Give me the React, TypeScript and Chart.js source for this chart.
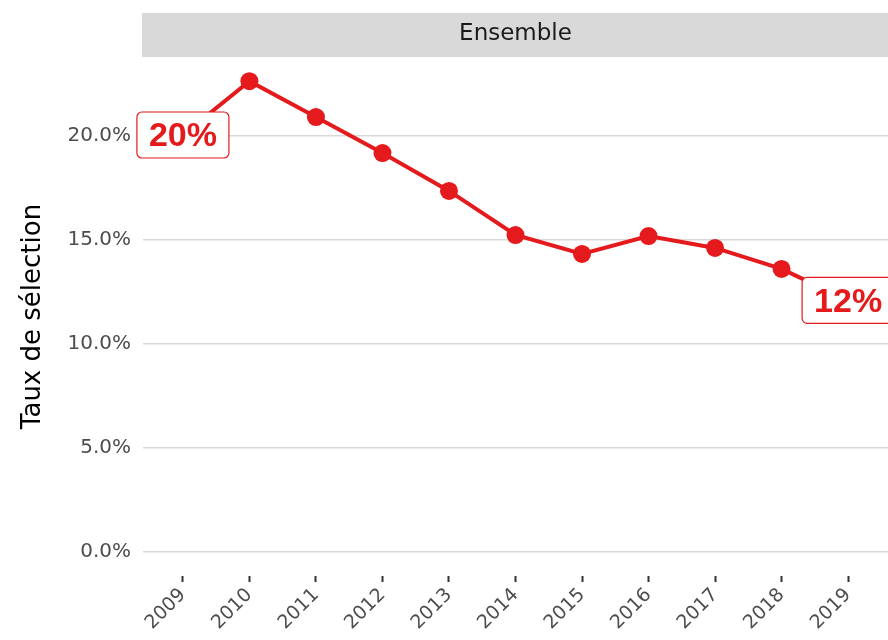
import React, { useEffect, useRef } from "react";
import { Chart, registerables } from "chart.js";

Chart.register(...registerables);

const years = [2009, 2010, 2011, 2012, 2013, 2014, 2015, 2016, 2017, 2018, 2019];
const rates = [20.05, 22.64, 20.91, 19.18, 17.36, 15.24, 14.33, 15.19, 14.62, 13.61, 12.1];
const yTicks = [0, 5, 10, 15, 20];
const labelYears = [2009, 2019];
const labelTexts = ["20%", "12%"];
const panelTitle = "Ensemble";
const yTitle = "Taux de sélection";

const RED = "#e41a1c";
const FONT = "'DejaVu Sans', sans-serif";
const CANVAS_W = 897;

const stripPlugin = {
  id: "strip",
  beforeDraw(chart: any) {
    const { ctx, chartArea } = chart;
    ctx.save();
    ctx.fillStyle = "#d9d9d9";
    ctx.fillRect(chartArea.left - 1, 13, chartArea.right - chartArea.left + 1, 44);
    ctx.fillStyle = "#1a1a1a";
    ctx.font = "23px " + FONT;
    ctx.textAlign = "center";
    ctx.textBaseline = "middle";
    ctx.fillText(panelTitle, (chartArea.left + chartArea.right) / 2, 34);
    ctx.restore();
  },
};

const labelPlugin = {
  id: "pointLabels",
  afterDatasetsDraw(chart: any) {
    const { ctx } = chart;
    const xs = chart.scales.x;
    const ys = chart.scales.y;
    ctx.save();
    ctx.font = "bold 34px 'Liberation Sans', Arial, sans-serif";
    ctx.textAlign = "center";
    ctx.textBaseline = "middle";
    labelYears.forEach((yr, i) => {
      const idx = years.indexOf(yr);
      const cx = xs.getPixelForValue(yr);
      const cy = ys.getPixelForValue(rates[idx]);
      const w = 92;
      const h = 46;
      const x0 = cx - w / 2;
      const y0 = cy - h / 2;
      ctx.beginPath();
      ctx.roundRect(x0, y0, w, h, 5);
      ctx.fillStyle = "#ffffff";
      ctx.fill();
      ctx.lineWidth = 1.2;
      ctx.strokeStyle = RED;
      ctx.stroke();
      ctx.fillStyle = RED;
      ctx.fillText(labelTexts[i], cx, cy + 2);
    });
    ctx.restore();
  },
};

export default function App() {
  const ref = useRef<HTMLCanvasElement>(null);
  useEffect(() => {
    document.body.style.margin = "0";
    const chart = new Chart(ref.current!, {
      type: "line",
      data: {
        datasets: [
          {
            data: years.map((y, i) => ({ x: y, y: rates[i] })),
            borderColor: RED,
            backgroundColor: RED,
            borderWidth: 4,
            pointRadius: 9,
            pointBorderWidth: 0,
            pointBackgroundColor: RED,
            tension: 0,
          },
        ],
      },
      options: {
        animation: false,
        responsive: false,
        layout: { padding: { top: 57, right: 0, left: 0, bottom: 0 } },
        plugins: { legend: { display: false }, tooltip: { enabled: false } },
        scales: {
          x: {
            type: "linear",
            min: 2008.4,
            max: 2019.6,
            afterBuildTicks: (s: any) => {
              s.ticks = years.map((v) => ({ value: v }));
            },
            afterFit: (s: any) => {
              s.height = 64;
            },
            border: { display: false },
            grid: {
              drawOnChartArea: false,
              drawTicks: true,
              tickLength: 6,
              tickWidth: 2,
              tickColor: "#333333",
              offset: false,
            },
            ticks: {
              minRotation: 45,
              maxRotation: 45,
              padding: 2,
              color: "#4d4d4d",
              font: { size: 19, family: FONT },
              callback: (v: any) => String(v),
            },
          },
          y: {
            type: "linear",
            min: -1.154,
            max: 23.8,
            afterBuildTicks: (s: any) => {
              s.ticks = yTicks.map((v) => ({ value: v }));
            },
            afterFit: (s: any) => {
              s.width = 143;
            },
            border: { display: false },
            grid: {
              color: "#d9d9d9",
              lineWidth: 1.5,
              drawTicks: false,
            },
            ticks: {
              padding: 12,
              color: "#4d4d4d",
              font: { size: 20, family: FONT },
              callback: (v: any) => Number(v).toFixed(1) + "%",
            },
            title: {
              display: true,
              text: yTitle,
              color: "#000000",
              font: { size: 26, family: FONT },
              padding: { top: 18, bottom: 0 },
            },
          },
        },
      },
      plugins: [stripPlugin, labelPlugin],
    } as any);
    return () => chart.destroy();
  }, []);
  return (
    <div style={{ width: 888, height: 640, overflow: "hidden" }}>
      <canvas ref={ref} width={CANVAS_W} height={640} style={{ display: "block" }} />
    </div>
  );
}
